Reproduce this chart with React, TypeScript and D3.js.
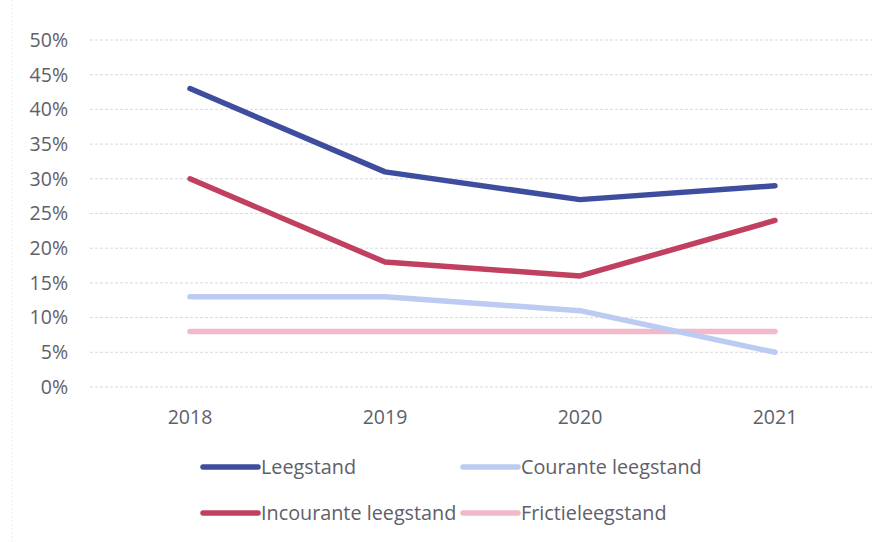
import React from "react";
import * as d3 from "d3";

const years = ["2018", "2019", "2020", "2021"];
const leegstand = [43, 31, 27, 29];
const incourante = [30, 18, 16, 24];
const courante = [13, 13, 11, 5];
const frictie = [8, 8, 8, 8];
const yTicks = [0, 5, 10, 15, 20, 25, 30, 35, 40, 45, 50];

const series = [
  { name: "Leegstand", values: leegstand, color: "#3f4d9f" },
  { name: "Courante leegstand", values: courante, color: "#bccbf2" },
  { name: "Incourante leegstand", values: incourante, color: "#c1405f" },
  { name: "Frictieleegstand", values: frictie, color: "#f2b9c9" },
];

export default function App() {
  const W = 885, H = 542;
  const x = d3.scaleBand().domain(years).range([92.5, 872.5]);
  const y = d3.scaleLinear().domain([0, 50]).range([387, 40]);
  const line = d3.line<number>()
    .x((_, i) => (x(years[i]) as number) + x.bandwidth() / 2)
    .y((d) => y(d));
  const font = "'Open Sans', sans-serif";
  const textColor = "#606068";
  const legendPos = [
    { lx: 203, ly: 467 },
    { lx: 463, ly: 467 },
    { lx: 203, ly: 513 },
    { lx: 463, ly: 513 },
  ];
  return (
    <svg width={W} height={H} style={{ position: "absolute", left: 0, top: 0, background: "#fff" }}>
      <line x1={12} x2={12} y1={0} y2={H} stroke="#eceef4" strokeWidth={1} strokeDasharray="2 2" />
      {yTicks.map((t) => (
        <g key={t}>
          <line x1={90} x2={872} y1={y(t)} y2={y(t)} stroke="#d9d9e0" strokeWidth={1} strokeDasharray="3 2" />
          <text x={68} y={y(t)} dy="0.35em" textAnchor="end" fontFamily={font} fontSize={19.5} fill={textColor}>
            {t}%
          </text>
        </g>
      ))}
      {years.map((yr) => (
        <text key={yr} x={(x(yr) as number) + x.bandwidth() / 2} y={417} dy="0.35em" textAnchor="middle" fontFamily={font} fontSize={19.5} fill={textColor}>
          {yr}
        </text>
      ))}
      {[series[3], series[1], series[2], series[0]].map((s) => (
        <path key={s.name} d={line(s.values) || ""} fill="none" stroke={s.color} strokeWidth={5.5} strokeLinejoin="round" strokeLinecap="round" />
      ))}
      {series.map((s, i) => (
        <g key={s.name}>
          <line x1={legendPos[i].lx} x2={legendPos[i].lx + 55} y1={legendPos[i].ly} y2={legendPos[i].ly} stroke={s.color} strokeWidth={5.5} strokeLinecap="round" />
          <text x={legendPos[i].lx + 58} y={legendPos[i].ly} dy="0.35em" fontFamily={font} fontSize={19.8} fill={textColor}>
            {s.name}
          </text>
        </g>
      ))}
    </svg>
  );
}
